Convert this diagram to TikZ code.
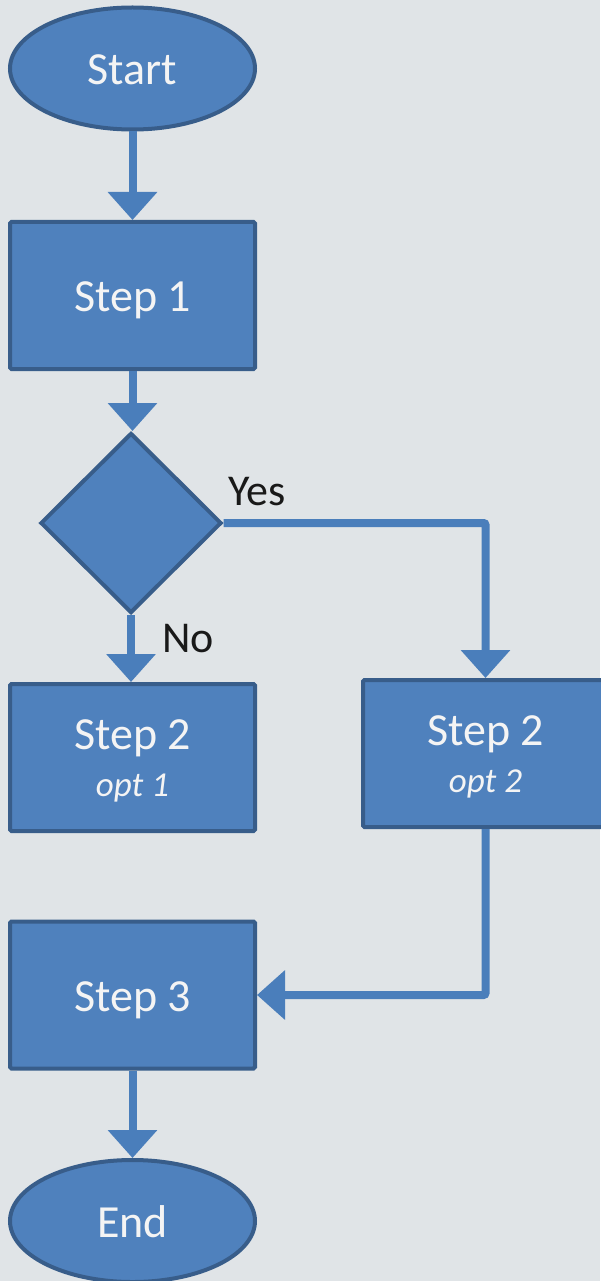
\documentclass[tikz,border=0pt]{standalone}
\usepackage{fontspec}
\setmainfont{Carlito}
\usetikzlibrary{shapes.geometric,arrows.meta}
\definecolor{bg}{HTML}{E0E4E7}
\definecolor{boxfill}{HTML}{4F81BD}
\definecolor{boxline}{HTML}{385D8A}
\definecolor{conn}{HTML}{4A7EBB}
\definecolor{txt}{HTML}{F4F4F4}
\tikzset{
  x=1pt, y=-1pt,
  shapebase/.style={fill=boxfill, draw=boxline, line width=4pt, inner sep=0pt},
  procbox/.style={shapebase, rectangle, rounded corners=1.5pt, minimum width=245pt, minimum height=147pt},
  termbox/.style={shapebase, ellipse, minimum width=245pt, minimum height=122pt},
  decbox/.style={shapebase, diamond, minimum width=181pt, minimum height=180pt},
  bigtxt/.style={text=txt, font=\fontsize{46}{55}\selectfont, anchor=base, inner sep=0pt},
  smalltxt/.style={text=txt, font=\fontsize{35}{42}\selectfont\itshape, anchor=base, inner sep=0pt},
  lbltxt/.style={text=black!90, font=\fontsize{44}{52}\selectfont, anchor=base, inner sep=0pt},
  flow/.style={draw=conn, line width=8pt, rounded corners=2pt, -{Triangle[width=48pt,length=28pt]}}
}
\begin{document}
\begin{tikzpicture}
\fill[bg] (0,0) rectangle (600,1281);
\useasboundingbox (0,0) rectangle (600,1281);

\node[termbox] (start) at (132.5,68.5) {};
\node[bigtxt] (startt) at (132.5,85) {Start};

\node[procbox] (s1) at (132.5,295.5) {};
\node[bigtxt] (s1t) at (132.5,311) {Step 1};

\node[decbox] (dec) at (131,523) {};

\node[procbox] (s2a) at (132.5,757.5) {};
\node[bigtxt] (s2at) at (132.5,749) {Step 2};
\node[smalltxt] (s2ao) at (132.5,796) {opt 1};

\node[procbox] (s2b) at (485.5,753.5) {};
\node[bigtxt] (s2bt) at (485.5,745) {Step 2};
\node[smalltxt] (s2bo) at (485.5,792) {opt 2};

\node[procbox] (s3) at (132.5,995) {};
\node[bigtxt] (s3t) at (132.5,1011) {Step 3};

\node[termbox] (end) at (132.5,1221) {};
\node[bigtxt] (endt) at (132.5,1237) {End};

\node[lbltxt] (yes) at (257,505) {Yes};
\node[lbltxt] (no) at (188,652) {No};

\draw[flow] (start.south) -- (s1.north);
\draw[flow] (s1.south) -- (s1.south |- dec.north);
\draw[flow] (dec.south) -- (dec.south |- s2a.north);
\draw[flow] (dec.east) -| (s2b.north);
\draw[flow] (s2b.south) |- (s3.east);
\draw[flow] (s3.south) -- (end.north);
\end{tikzpicture}
\end{document}
